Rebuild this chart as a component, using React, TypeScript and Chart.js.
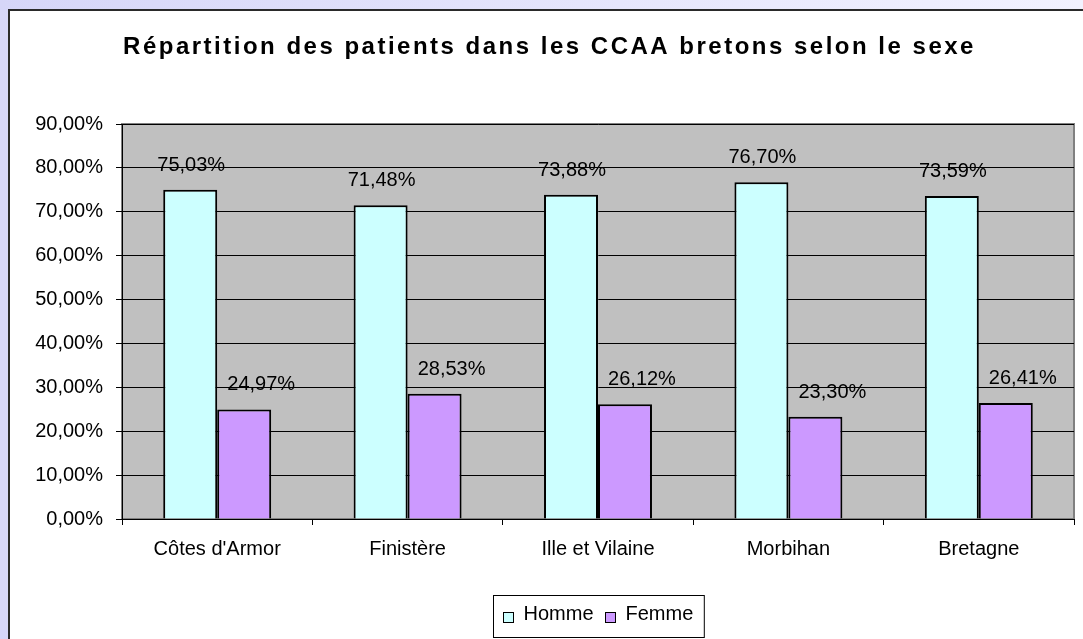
import React, { useEffect, useRef } from "react";
import { Chart, registerables } from "chart.js";
Chart.register(...registerables);

const titleText = "Répartition des patients dans les CCAA bretons selon le sexe";
const categories = ["Côtes d'Armor", "Finistère", "Ille et Vilaine", "Morbihan", "Bretagne"];
const seriesNames = ["Homme", "Femme"];
const hommeValues = [75.03, 71.48, 73.88, 76.7, 73.59];
const femmeValues = [24.97, 28.53, 26.12, 23.3, 26.41];
const yMin = 0;
const yMax = 90;
const yStep = 10;

const seriesColors = ["#CCFFFF", "#CC99FF"];
const W = 1077;
const H = 640;
const FONT = '"Liberation Sans", Arial, sans-serif';
const fmt = (v: number) => Number(v).toFixed(2).replace(".", ",") + "%";

const decor = {
  id: "decor",
  beforeDraw(chart: any) {
    const { ctx, chartArea: a } = chart;
    ctx.save();
    ctx.fillStyle = "#ffffff";
    ctx.fillRect(0, 0, chart.width, chart.height);
    ctx.fillStyle = "#C0C0C0";
    ctx.fillRect(a.left, a.top, a.right - a.left, a.bottom - a.top);
    ctx.strokeStyle = "#808080";
    ctx.lineWidth = 2;
    ctx.strokeRect(a.left, a.top, a.right - a.left, a.bottom - a.top);
    ctx.restore();
  },
  afterDatasetsDraw(chart: any) {
    const { ctx } = chart;
    ctx.save();
    ctx.font = `20px ${FONT}`;
    ctx.fillStyle = "#000";
    ctx.textAlign = "center";
    ctx.textBaseline = "alphabetic";
    chart.data.datasets.forEach((ds: any, di: number) => {
      const meta = chart.getDatasetMeta(di);
      const dx = di === 0 ? 1 : 17;
      meta.data.forEach((bar: any, i: number) => {
        ctx.fillText(fmt(ds.data[i]), bar.x + dx, bar.y - 19);
      });
    });
    ctx.restore();
  },
  afterDraw(chart: any) {
    const { ctx, chartArea: a } = chart;
    ctx.save();
    // title
    ctx.font = `bold 24px ${FONT}`;
    (ctx as any).letterSpacing = "2.5px";
    ctx.fillStyle = "#000";
    ctx.textAlign = "center";
    ctx.textBaseline = "alphabetic";
    ctx.fillText(titleText, chart.width / 2 + 1, 43);
    (ctx as any).letterSpacing = "0px";

    // legend
    ctx.font = `20px ${FONT}`;
    const sq = 11;
    const gapSqText = 10;
    const gapItems = 11;
    const padL = 9;
    const padR = 11;
    const widths = chart.data.datasets.map((d: any) => ctx.measureText(d.label).width);
    let total = padL + padR;
    widths.forEach((w: number, i: number) => {
      total += sq + gapSqText + w + (i < widths.length - 1 ? gapItems : 0);
    });
    const cx = (a.left + a.right) / 2;
    const bx = Math.round(cx - total / 2) + 0.5;
    const by = 584.5;
    const bh = 42;
    ctx.strokeStyle = "#000";
    ctx.lineWidth = 1;
    ctx.strokeRect(bx, by, total, bh);
    let x = bx + padL;
    const midY = by + bh / 2;
    chart.data.datasets.forEach((d: any, i: number) => {
      ctx.fillStyle = d.backgroundColor;
      ctx.fillRect(Math.round(x), Math.round(midY - sq / 2 + 1), sq, sq - 1);
      ctx.strokeStyle = "#000";
      ctx.strokeRect(Math.round(x) + 0.5, Math.round(midY - sq / 2 + 1) + 0.5, sq - 1, sq - 1);
      x += sq + gapSqText;
      ctx.fillStyle = "#000";
      ctx.textAlign = "left";
      ctx.textBaseline = "middle";
      ctx.fillText(d.label, x, midY - 2);
      x += widths[i] + gapItems;
    });
    ctx.restore();
  },
};

export default function App() {
  const ref = useRef<HTMLCanvasElement | null>(null);
  useEffect(() => {
    if (!ref.current) return;
    const chart = new Chart(ref.current, {
      type: "bar",
      data: {
        labels: categories,
        datasets: [
          {
            label: seriesNames[0],
            data: hommeValues,
            backgroundColor: seriesColors[0],
            borderColor: "#000",
            borderWidth: 2,
            categoryPercentage: 0.567,
            barPercentage: 1,
          },
          {
            label: seriesNames[1],
            data: femmeValues,
            backgroundColor: seriesColors[1],
            borderColor: "#000",
            borderWidth: 2,
            categoryPercentage: 0.567,
            barPercentage: 1,
          },
        ],
      },
      options: {
        responsive: false,
        animation: false,
        layout: { padding: { top: 113, left: 0, right: 13, bottom: 72 } },
        plugins: {
          legend: { display: false },
          title: { display: false },
          tooltip: { enabled: false },
        },
        scales: {
          x: {
            grid: {
              offset: true,
              drawOnChartArea: false,
              drawTicks: true,
              tickLength: 6,
              color: "#000",
              lineWidth: 1,
            },
            border: { display: true, color: "#000", width: 1 },
            ticks: {
              color: "#000",
              font: { family: FONT, size: 20 },
              padding: 12,
              maxRotation: 0,
              autoSkip: false,
            },
            afterFit: (s: any) => {
              s.height = 60;
            },
          },
          y: {
            min: yMin,
            max: yMax,
            ticks: {
              stepSize: yStep,
              callback: (v: any) => fmt(v),
              color: "#000",
              font: { family: FONT, size: 20 },
              padding: 13,
            },
            grid: { color: "#000", tickLength: 6, lineWidth: 1 },
            border: { display: true, color: "#000", width: 1 },
            afterFit: (s: any) => {
              s.width = 112;
            },
          },
        },
      },
      plugins: [decor],
    } as any);
    return () => chart.destroy();
  }, []);

  return (
    <div
      style={{
        position: "fixed",
        inset: 0,
        overflow: "hidden",
        background: "linear-gradient(to right, #d6d6f8, #f2f2ff)",
      }}
    >
      <div
        style={{
          position: "absolute",
          left: 8,
          top: 9,
          width: W,
          height: H,
          border: "2px solid #2a2a2a",
          background: "#fff",
        }}
      >
        <canvas ref={ref} width={W} height={H} style={{ display: "block", width: W, height: H }} />
      </div>
    </div>
  );
}
